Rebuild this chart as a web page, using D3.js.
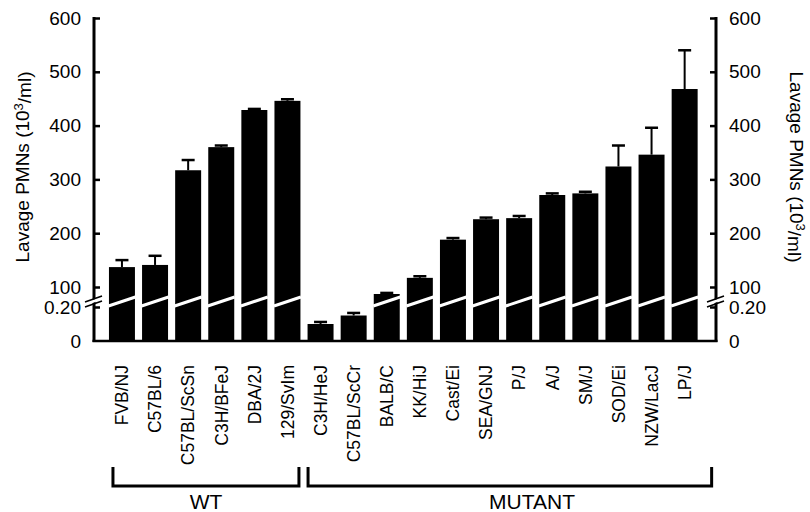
<!DOCTYPE html>
<html>
<head>
<meta charset="utf-8">
<script src="https://cdn.jsdelivr.net/npm/d3@7"></script>
<style>
  body { margin: 0; background: #fff; }
  text { font-family: "Liberation Sans", Arial, Helvetica, sans-serif; fill: #000; }
</style>
</head>
<body>
<div id="chart"></div>
<script>
// strains on the x axis
var strains = ["FVB/NJ", "C57BL/6", "C57BL/ScSn", "C3H/BFeJ", "DBA/2J", "129/SvIm",
  "C3H/HeJ", "C57BL/ScCr", "BALB/C", "KK/HiJ", "Cast/Ei", "SEA/GNJ", "P/J", "A/J",
  "SM/J", "SOD/Ei", "NZW/LacJ", "LP/J"];

// lavage PMNs (10^3/ml) -- two tiny ones sit on the lower (0-0.20) segment
var means = [137, 141, 317, 360, 429, 446,
  0.10, 0.15, 87, 117, 188, 226, 228, 271, 274, 324, 346, 468];

// error bar (SEM)
var sems = [13, 17, 19, 3, 2, 3,
  0.012, 0.015, 2, 3, 3, 3, 4, 3, 3, 39, 50, 72];

// tick labels for the two pieces of the broken axis
var upperTicks = [100, 200, 300, 400, 500, 600];
var lowerTicks = [0, 0.2];

// groups under the bars
var groupNames = ["WT", "MUTANT"];
var groupFirst = ["FVB/NJ", "C3H/HeJ"];
var groupLast = ["129/SvIm", "LP/J"];

var svgWidth = 810;
var svgHeight = 512;

var svg = d3.select("#chart")
  .append("svg")
  .attr("width", svgWidth)
  .attr("height", svgHeight);

var leftX = 94;
var rightX = 716;

// x band scale
var xScale = d3.scaleBand()
  .domain(strains)
  .range([105.4, 701.2])
  .paddingInner(0.215)
  .paddingOuter(0.1075);

// broken y axis: two linear scales
var yUpper = d3.scaleLinear().domain([100, 600]).range([287, 18]);
var yLower = d3.scaleLinear().domain([0, 0.2]).range([341, 307]);
var breakY = 301.5;

function yVal(v) {
  return v < 1 ? yLower(v) : yUpper(v);
}

var bw = xScale.bandwidth();

// bars
svg.append("g")
  .selectAll("rect")
  .data(strains)
  .enter()
  .append("rect")
  .attr("x", d => xScale(d))
  .attr("y", (d, i) => yVal(means[i]))
  .attr("width", bw)
  .attr("height", (d, i) => yLower(0) - yVal(means[i]))
  .attr("fill", "#000");

// white slanted cut through bars that cross the break
svg.append("g")
  .selectAll("line")
  .data(strains.filter((d, i) => means[i] >= 1))
  .enter()
  .append("line")
  .attr("x1", d => xScale(d) - 0.5)
  .attr("x2", d => xScale(d) + bw + 0.5)
  .attr("y1", breakY + 4.5)
  .attr("y2", breakY - 4.5)
  .attr("stroke", "#fff")
  .attr("stroke-width", 3);

// error bars
var errG = svg.append("g")
  .attr("stroke", "#000")
  .attr("stroke-width", 2);

strains.forEach((d, i) => {
  var cx = xScale(d) + bw / 2;
  var top = yVal(means[i] + sems[i]);
  errG.append("line")
    .attr("x1", cx).attr("x2", cx)
    .attr("y1", yVal(means[i])).attr("y2", top);
  errG.append("line")
    .attr("x1", cx - 6.5).attr("x2", cx + 6.5)
    .attr("y1", top).attr("y2", top)
    .attr("stroke-width", 2.5);
});

// left axes (ticks point inward)
var fmtLower = d => d === 0 ? "0" : d3.format(".2f")(d);

function drawAxis(x, isLeft) {
  var mk = isLeft ? d3.axisLeft : d3.axisRight;
  var g1 = svg.append("g")
    .attr("transform", `translate(${x},0)`)
    .call(mk(yUpper).tickValues(upperTicks).tickSize(-6).tickPadding(13));
  var g2 = svg.append("g")
    .attr("transform", `translate(${x},0)`)
    .call(mk(yLower).tickValues(lowerTicks).tickFormat(fmtLower).tickSize(-6).tickPadding(13));
  [g1, g2].forEach(g => {
    g.select(".domain").remove();
    g.selectAll(".tick line").attr("stroke", "#000").attr("stroke-width", 2.5);
    g.selectAll(".tick text").style("font-size", "19px").attr("fill", "#000");
  });
  // bottom zero tick hides under the x axis line
  g2.selectAll(".tick").filter(d => d === 0).select("line").remove();

  // axis line
  svg.append("line")
    .attr("x1", x).attr("x2", x)
    .attr("y1", yUpper(600) - 1).attr("y2", yLower(0) + 1)
    .attr("stroke", "#000").attr("stroke-width", 3);

  // break marks
  svg.append("polygon")
    .attr("points", `${x - 8},${breakY + 4} ${x + 8},${breakY - 2} ${x + 8},${breakY - 5} ${x - 8},${breakY + 1}`)
    .attr("fill", "#fff");
  [-2.5, 2.5].forEach(o => {
    svg.append("line")
      .attr("x1", x - 9).attr("x2", x + 8)
      .attr("y1", breakY + 3 + o).attr("y2", breakY - 3 + o)
      .attr("stroke", "#000").attr("stroke-width", 1.6);
  });
}

drawAxis(leftX, true);
drawAxis(rightX, false);

// x axis baseline
svg.append("line")
  .attr("x1", leftX - 1.5).attr("x2", rightX + 1.5)
  .attr("y1", yLower(0)).attr("y2", yLower(0))
  .attr("stroke", "#000").attr("stroke-width", 2.5);

// category labels, rotated
svg.append("g")
  .selectAll("text")
  .data(strains)
  .enter()
  .append("text")
  .attr("transform", d => `translate(${xScale(d) + bw / 2},365) rotate(-90)`)
  .attr("text-anchor", "end")
  .attr("dy", "0.36em")
  .style("font-size", "17.5px")
  .text(d => d);

// y axis titles
function yTitle(x, angle) {
  var t = svg.append("text")
    .attr("transform", `translate(${x},167) rotate(${angle})`)
    .attr("text-anchor", "middle")
    .attr("dy", "0.35em")
    .style("font-size", "19px");
  t.append("tspan").text("Lavage PMNs (10");
  t.append("tspan").attr("dy", "-0.45em").style("font-size", "13px").text("3");
  t.append("tspan").attr("dy", "0.45em").text("/ml)");
}
yTitle(22, -90);
yTitle(797, 90);

// group brackets
var bracketOff = [[4, -1.5], [0.5, 14]];
groupNames.forEach((name, i) => {
  var x0 = xScale(groupFirst[i]) + bracketOff[i][0];
  var x1 = xScale(groupLast[i]) + bw + bracketOff[i][1];
  svg.append("path")
    .attr("d", `M${x0},467 V486 H${x1} V467`)
    .attr("fill", "none")
    .attr("stroke", "#000")
    .attr("stroke-width", 3);
});

svg.append("text")
  .attr("x", 206).attr("y", 509)
  .attr("text-anchor", "middle")
  .style("font-size", "21px")
  .text(groupNames[0]);

svg.append("text")
  .attr("x", 532).attr("y", 509)
  .attr("text-anchor", "middle")
  .style("font-size", "21px")
  .text(groupNames[1]);
</script>
</body>
</html>
